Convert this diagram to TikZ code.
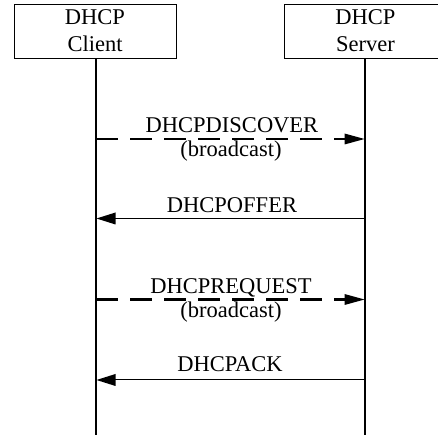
\documentclass[tikz,border=0pt]{standalone}
\usepackage{fontspec}
\setmainfont{Liberation Serif}
\begin{document}
\begin{tikzpicture}[x=1pt,y=1pt,
  lbl/.style={anchor=base,inner sep=0pt,font=\fontsize{22.5}{27}\selectfont},
  boxline/.style={line width=1pt},
  life/.style={line width=1.2pt},
  dashline/.style={line width=2.8pt,dash pattern=on 22pt off 12pt},
  solidline/.style={line width=1pt},
  tip/.style={fill=black}]
\fill[white] (0,0) rectangle (438,435);
\useasboundingbox (0,0) rectangle (438,435);
\coordinate (client) at (95.5,403.5);
\coordinate (server) at (364.5,403.5);
\draw[boxline] (14.5,376.5) rectangle (176.5,430.5);
\draw[boxline] (438,376.5) -- (284.5,376.5) -- (284.5,430.5) -- (438,430.5);
\node[lbl] (ct1) at (95,410) {DHCP};
\node[lbl] (ct2) at (95,383) {Client};
\node[lbl] (st1) at (365.5,410) {DHCP};
\node[lbl] (st2) at (365.5,383) {Server};
\coordinate (ct) at (96,376.5);
\coordinate (st) at (365,376.5);
\coordinate (cb) at (96,0);
\coordinate (sb) at (365,0);
\draw[life] (ct) -- (cb);
\draw[life] (st) -- (sb);
\coordinate (c1) at (96,296); \coordinate (s1) at (364.5,296);
\coordinate (c2) at (96.5,216.5); \coordinate (s2) at (365,216.5);
\coordinate (c3) at (96,135.5); \coordinate (s3) at (364.5,135.5);
\coordinate (c4) at (96.5,55); \coordinate (s4) at (365,55);
\draw[dashline] (c1) -- ([xshift=-18pt]s1);
\fill[tip] (s1) -- ++(-20,5.5) -- ++(0,-11) -- cycle;
\draw[solidline] (s2) -- ([xshift=16pt]c2);
\fill[tip] (c2) -- ++(19,6) -- ++(0,-12) -- cycle;
\draw[dashline] (c3) -- ([xshift=-18pt]s3);
\fill[tip] (s3) -- ++(-20,5.5) -- ++(0,-11) -- cycle;
\draw[solidline] (s4) -- ([xshift=16pt]c4);
\fill[tip] (c4) -- ++(19,6) -- ++(0,-12) -- cycle;
\node[lbl] (m1) at (232,302) {DHCPDISCOVER};
\node[lbl] (m1b) at (231,278) {(broadcast)};
\node[lbl] (m2) at (232,222) {DHCPOFFER};
\node[lbl] (m3) at (231,141.5) {DHCPREQUEST};
\node[lbl] (m3b) at (231,117) {(broadcast)};
\node[lbl] (m4) at (230,63) {DHCPACK};
\end{tikzpicture}
\end{document}
